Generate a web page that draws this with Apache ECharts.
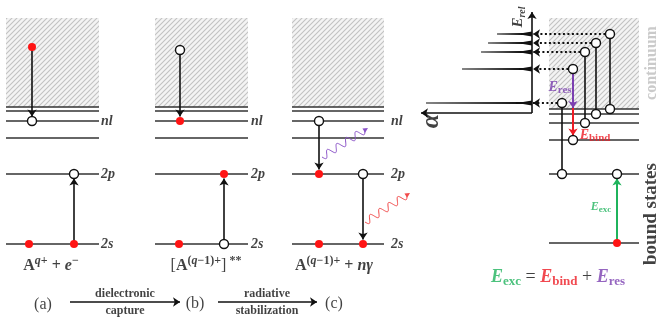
<!DOCTYPE html>
<html>
<head>
<meta charset="utf-8">
<script src="https://cdn.jsdelivr.net/npm/echarts@6/dist/echarts.min.js"></script>
<style>html,body{margin:0;padding:0;background:#fff}#main{width:659px;height:322px}</style>
</head>
<body>
<div id="main"></div>
<script>
// diagram units: x to the right, y (energy) drawn downward like the picture
var panelLevels = [107, 111, 121, 138, 174, 244];   // continuum edge, nl, ..., 2p, 2s
var panelSpans = [[6, 99], [155, 248], [292, 384]];  // panels (a) (b) (c)
var rightLevels = [109, 114, 123, 140, 174, 243];
var rightSpan = [549, 639];
var continuumTop = 18;

// electrons (filled) and holes / empty states (open)
var redDots = [[32, 47], [29, 244], [74, 244], [180, 121], [179, 244], [224, 174],
  [319, 174], [319, 244], [363, 244], [617, 243]];
var openDots = [[32, 121], [74, 174], [180, 50], [224, 244], [319, 121], [363, 174],
  [610, 34], [596, 43], [585, 52], [573, 69], [562, 103],
  [610, 109], [596, 114], [585, 123], [573, 140], [562, 174], [617, 174]];

// transitions [x, from, to]
var transitions = [[32, 47, 121], [74, 244, 174], [180, 50, 121], [224, 244, 174],
  [319, 121, 174], [363, 174, 244]];
var resonanceLinks = [[610, 34, 109], [596, 43, 114], [585, 52, 123], [562, 103, 174]];

// spectrum: resonance energies and peak strengths (tip position)
var peakE = [34, 43, 52, 69, 103];
var peakTip = [497, 488, 481, 462, 426];
var peakSource = [610, 596, 585, 573, 562];
var axisX = 532, axisY = 113;

// photons [x0, y0, x1, y1]
var photons = [[322, 157, 368, 128], [365, 222, 410, 193]];
var photonColors = ['#8a52c8', '#f24a4a'];

var R = 4.6;

// hatch pattern for the continuum
var hc = document.createElement('canvas');
hc.width = 5; hc.height = 5;
var ctx = hc.getContext('2d');
ctx.fillStyle = '#f4f4f4'; ctx.fillRect(0, 0, 5, 5);
ctx.strokeStyle = '#c2c2c2'; ctx.lineWidth = 1.1;
ctx.beginPath();
ctx.moveTo(0, 5); ctx.lineTo(5, 0);
ctx.moveTo(-1, 1); ctx.lineTo(1, -1);
ctx.moveTo(4, 6); ctx.lineTo(6, 4);
ctx.stroke();
var hatch = { image: hc, repeat: 'repeat' };

var boxes = panelSpans.map(function (s) { return [s[0], continuumTop, s[1], panelLevels[0]]; });
boxes.push([rightSpan[0], continuumTop, rightSpan[1], rightLevels[0]]);

var levelLines = [];
panelSpans.forEach(function (s) {
  panelLevels.forEach(function (y) { levelLines.push({ coords: [[s[0], y], [s[1], y]] }); });
});
rightLevels.forEach(function (y) { levelLines.push({ coords: [[rightSpan[0], y], [rightSpan[1], y]] }); });

function arrowTo(t) {
  var d = t[2] > t[1] ? 1 : -1;
  return { coords: [[t[0], t[1]], [t[0], t[2] - d * R]] };
}
var arrowData = transitions.map(arrowTo);
arrowData.push({ coords: [[70, 302], [180, 302]] }, { coords: [[218, 302], [317, 302]] });
arrowData.push({ coords: [[axisX, axisY], [axisX, 12]] }, { coords: [[axisX, axisY], [421, axisY]] });

var dottedData = peakE.map(function (y, i) {
  return { coords: [[peakSource[i] - R, y], [axisX + 1, y]] };
});

var serif = 'Liberation Serif';
var rich = {
  b: { fontFamily: serif, fontWeight: 'bold', fontSize: 16, color: '#111', lineHeight: 22 },
  bi: { fontFamily: serif, fontWeight: 'bold', fontStyle: 'italic', fontSize: 16, color: '#111', lineHeight: 22 },
  sup: { fontFamily: serif, fontWeight: 'bold', fontSize: 12, color: '#111', verticalAlign: 'top', lineHeight: 21 },
  supi: { fontFamily: serif, fontWeight: 'bold', fontStyle: 'italic', fontSize: 12, color: '#111', verticalAlign: 'top', lineHeight: 21 },
  lv: { fontFamily: serif, fontWeight: 'bold', fontStyle: 'italic', fontSize: 14, color: '#111' },
  n: { fontFamily: serif, fontSize: 16, color: '#111', lineHeight: 22 },
  s: { fontFamily: serif, fontWeight: 'bold', fontSize: 12, color: '#111' },
  Eg: { fontFamily: serif, fontWeight: 'bold', fontStyle: 'italic', fontSize: 18, color: '#1fb35c', lineHeight: 22 },
  Er: { fontFamily: serif, fontWeight: 'bold', fontStyle: 'italic', fontSize: 18, color: '#ee1c24', lineHeight: 22 },
  Ep: { fontFamily: serif, fontWeight: 'bold', fontStyle: 'italic', fontSize: 18, color: '#7b3fb0', lineHeight: 22 },
  sg: { fontFamily: serif, fontWeight: 'bold', fontSize: 13, color: '#1fb35c', verticalAlign: 'bottom', lineHeight: 22 },
  sr: { fontFamily: serif, fontWeight: 'bold', fontSize: 13, color: '#ee1c24', verticalAlign: 'bottom', lineHeight: 22 },
  sp: { fontFamily: serif, fontWeight: 'bold', fontSize: 13, color: '#7b3fb0', verticalAlign: 'bottom', lineHeight: 22 },
  op: { fontFamily: serif, fontSize: 18, color: '#111', lineHeight: 22 },
  ep: { fontFamily: serif, fontWeight: 'bold', fontStyle: 'italic', fontSize: 14, color: '#7b3fb0', lineHeight: 18 },
  epS: { fontFamily: serif, fontWeight: 'bold', fontSize: 11, color: '#7b3fb0', verticalAlign: 'bottom', lineHeight: 18 },
  eb: { fontFamily: serif, fontWeight: 'bold', fontStyle: 'italic', fontSize: 14, color: '#ee1c24', lineHeight: 18 },
  ebS: { fontFamily: serif, fontWeight: 'bold', fontSize: 11, color: '#ee1c24', verticalAlign: 'bottom', lineHeight: 18 },
  eg: { fontFamily: serif, fontWeight: 'bold', fontStyle: 'italic', fontSize: 12, color: '#1fb35c', lineHeight: 15 },
  egS: { fontFamily: serif, fontWeight: 'bold', fontSize: 9, color: '#1fb35c', verticalAlign: 'bottom', lineHeight: 15 },
  erel: { fontFamily: serif, fontWeight: 'bold', fontStyle: 'italic', fontSize: 15, color: '#111', lineHeight: 18 },
  erelS: { fontFamily: serif, fontWeight: 'bold', fontStyle: 'italic', fontSize: 10, color: '#111', verticalAlign: 'bottom', lineHeight: 18 },
  alpha: { fontFamily: serif, fontWeight: 'bold', fontStyle: 'italic', fontSize: 26, color: '#111' },
  cont: { fontFamily: serif, fontWeight: 'bold', fontSize: 16, color: '#bdbdbd' },
  bound: { fontFamily: serif, fontWeight: 'bold', fontSize: 19, color: '#111' }
};

function txt(x, y, f, opt) {
  var l = { show: true, position: 'inside', formatter: f, rich: rich, align: 'center', verticalAlign: 'middle' };
  if (opt) for (var k in opt) l[k] = opt[k];
  return { value: [x, y], label: l };
}

var texts = [];
var lvX = [101, 251, 391];
lvX.forEach(function (x) {
  texts.push(txt(x, panelLevels[2], '{lv|nl}', { align: 'left' }));
  texts.push(txt(x, panelLevels[4], '{lv|2p}', { align: 'left' }));
  texts.push(txt(x, panelLevels[5], '{lv|2s}', { align: 'left' }));
});
texts.push(txt(51, 266, '{b|A}{supi|q}{sup|+}{b| + }{bi|e}{sup|\u2212}'));
texts.push(txt(206, 266, '{n|[}{b|A}{sup|(}{supi|q}{sup|\u22121)+}{n|]}{sup| **}'));
texts.push(txt(334, 266, '{b|A}{sup|(}{supi|q}{sup|\u22121)+}{b| + }{bi|n\u03b3}'));
texts.push(txt(43, 305, '{n|(a)}'));
texts.push(txt(195, 304, '{n|(b)}'));
texts.push(txt(334, 304, '{n|(c)}'));
texts.push(txt(125, 294, '{s|dielectronic}'));
texts.push(txt(125, 311, '{s|capture}'));
texts.push(txt(267, 294, '{s|radiative}'));
texts.push(txt(267, 311, '{s|stabilization}'));
texts.push(txt(518, 17, '{erel|E}{erelS|rel}', { rotate: 90 }));
texts.push(txt(431, 121, '{alpha|\u03b1}', { rotate: 90 }));
texts.push(txt(560, 87, '{ep|E}{epS|res}'));
texts.push(txt(595, 135, '{eb|E}{ebS|bind}'));
texts.push(txt(601, 207, '{eg|E}{egS|exc}'));
texts.push(txt(652, 63, '{cont|continuum}', { rotate: 90 }));
texts.push(txt(651, 214, '{bound|bound states}', { rotate: 90 }));
texts.push(txt(558, 277, '{Eg|E}{sg|exc}{op| = }{Er|E}{sr|bind}{op| + }{Ep|E}{sp|res}'));

var chartDom = document.getElementById('main');
var myChart = echarts.init(chartDom, null, { renderer: 'canvas' });

var option = {
  animation: false,
  backgroundColor: '#fff',
  grid: { left: 0, right: 0, top: 0, bottom: 0 },
  xAxis: { type: 'value', min: 0, max: 659, show: false },
  yAxis: { type: 'value', min: 0, max: 322, inverse: true, show: false },
  series: [
    {
      // continuum hatching
      type: 'custom', z: 1, silent: true,
      renderItem: function (params, api) {
        var p0 = api.coord([api.value(0), api.value(1)]);
        var p1 = api.coord([api.value(2), api.value(3)]);
        return { type: 'rect', shape: { x: p0[0], y: p0[1], width: p1[0] - p0[0], height: p1[1] - p0[1] }, style: { fill: hatch } };
      },
      data: boxes
    },
    {
      type: 'lines', coordinateSystem: 'cartesian2d', z: 2, silent: true,
      lineStyle: { color: '#333', width: 1.6, opacity: 1 },
      data: levelLines
    },
    {
      type: 'lines', coordinateSystem: 'cartesian2d', z: 3, silent: true,
      lineStyle: { color: '#111', width: 1.6, opacity: 1 },
      data: resonanceLinks.map(function (t) { return { coords: [[t[0], t[1]], [t[0], t[2]]] }; })
    },
    {
      type: 'lines', coordinateSystem: 'cartesian2d', z: 3, silent: true,
      symbol: ['none', 'arrow'], symbolSize: 7,
      lineStyle: { color: '#111', width: 1.6, opacity: 1 },
      data: arrowData
    },
    {
      type: 'lines', coordinateSystem: 'cartesian2d', z: 3, silent: true,
      symbol: ['none', 'arrow'], symbolSize: 7,
      lineStyle: { color: '#111', width: 2.2, type: [2, 2.5], opacity: 1 },
      data: dottedData
    },
    {
      type: 'lines', coordinateSystem: 'cartesian2d', z: 3, silent: true,
      symbol: ['none', 'arrow'], symbolSize: 7,
      lineStyle: { width: 2, opacity: 1 },
      data: [
        { coords: [[573, 69 + R], [573, 108]], lineStyle: { color: '#7b3fb0' } },
        { coords: [[573, 108], [573, 140 - R]], lineStyle: { color: '#ee1c24' } },
        { coords: [[617, 243], [617, 174 + R]], lineStyle: { color: '#1fb35c' } }
      ]
    },
    {
      // spectrum peaks
      type: 'custom', z: 3, silent: true,
      renderItem: function (params, api) {
        var y = api.value(0), tip = api.value(1);
        var pts = [[axisX, y - 2.6], [axisX - 9, y - 0.9], [tip, y - 0.6], [tip, y + 0.6], [axisX - 9, y + 0.9], [axisX, y + 2.6]]
          .map(function (p) { return api.coord(p); });
        return { type: 'polygon', shape: { points: pts }, style: { fill: '#111' } };
      },
      data: peakE.map(function (y, i) { return [y, peakTip[i]]; })
    },
    {
      // emitted photons
      type: 'custom', z: 3, silent: true,
      renderItem: function (params, api) {
        var a = api.coord([api.value(0), api.value(1)]);
        var b = api.coord([api.value(2), api.value(3)]);
        var dx = b[0] - a[0], dy = b[1] - a[1];
        var len = Math.sqrt(dx * dx + dy * dy);
        var ux = dx / len, uy = dy / len, nx = -uy, ny = ux;
        var pts = [];
        var body = len - 4;
        for (var s = 0; s <= body; s += 0.5) {
          var w = 3.6 * Math.sin(s / body * Math.PI * 2 * 4.5);
          pts.push([a[0] + ux * s + nx * w, a[1] + uy * s + ny * w]);
        }
        var col = photonColors[params.dataIndex];
        return {
          type: 'group', children: [
            { type: 'polyline', shape: { points: pts }, style: { stroke: col, lineWidth: 1, fill: null } },
            { type: 'polygon', shape: { points: [b, [b[0] - ux * 5 + nx * 2.5, b[1] - uy * 5 + ny * 2.5], [b[0] - ux * 5 - nx * 2.5, b[1] - uy * 5 - ny * 2.5]] }, style: { fill: col } }
          ]
        };
      },
      data: photons
    },
    {
      type: 'scatter', z: 5, silent: true, symbolSize: 9,
      itemStyle: { color: '#fff', borderColor: '#111', borderWidth: 1.4, opacity: 1 },
      data: openDots
    },
    {
      type: 'scatter', z: 5, silent: true, symbolSize: 8,
      itemStyle: { color: '#ff1414', opacity: 1 },
      data: redDots
    },
    {
      type: 'scatter', z: 6, silent: true, symbolSize: 0,
      itemStyle: { color: 'transparent' },
      data: texts
    }
  ]
};
option && myChart.setOption(option);
</script>
</body>
</html>
